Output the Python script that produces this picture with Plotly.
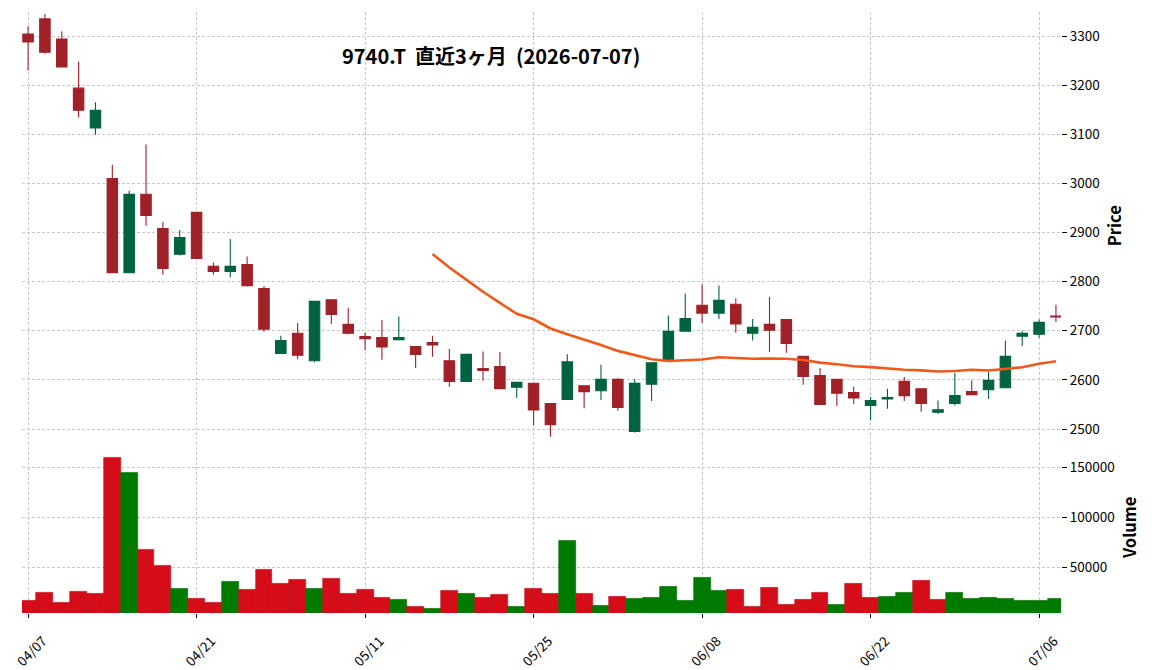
import plotly.graph_objects as go
import pandas as pd

dates = ["04/07", "04/08", "04/09", "04/10", "04/13", "04/14", "04/15", "04/16", "04/17", "04/20",
         "04/21", "04/22", "04/23", "04/24", "04/27", "04/28", "04/30", "05/01", "05/07", "05/08",
         "05/11", "05/12", "05/13", "05/14", "05/15", "05/18", "05/19", "05/20", "05/21", "05/22",
         "05/25", "05/26", "05/27", "05/28", "05/29", "06/01", "06/02", "06/03", "06/04", "06/05",
         "06/08", "06/09", "06/10", "06/11", "06/12", "06/15", "06/16", "06/17", "06/18", "06/19",
         "06/22", "06/23", "06/24", "06/25", "06/26", "06/29", "06/30", "07/01", "07/02", "07/03",
         "07/06", "07/07"]

opens = [3304, 3335, 3294, 3194, 3113, 3010, 2818, 2978, 2908, 2856,
         2941, 2831, 2821, 2835, 2786, 2654, 2695, 2639, 2763, 2713,
         2688, 2686, 2682, 2668, 2676, 2639, 2597, 2623, 2627, 2585,
         2593, 2552, 2560, 2588, 2578, 2601, 2495, 2591, 2641, 2699,
         2752, 2736, 2754, 2695, 2713, 2723, 2648, 2609, 2601, 2574,
         2548, 2561, 2597, 2582, 2534, 2552, 2576, 2580, 2584, 2689,
         2693, 2730]
highs = [3320, 3345, 3310, 3248, 3165, 3038, 2985, 3079, 2922, 2905,
         2941, 2839, 2887, 2851, 2791, 2690, 2716, 2760, 2764, 2747,
         2696, 2722, 2729, 2668, 2690, 2663, 2652, 2658, 2657, 2595,
         2593, 2552, 2652, 2588, 2631, 2604, 2602, 2635, 2731, 2776,
         2794, 2792, 2766, 2724, 2769, 2723, 2648, 2624, 2601, 2586,
         2565, 2582, 2606, 2582, 2558, 2614, 2599, 2616, 2680, 2699,
         2723, 2753]
lows = [3230, 3264, 3237, 3134, 3099, 2817, 2818, 2914, 2814, 2853,
        2846, 2814, 2809, 2790, 2698, 2654, 2642, 2636, 2714, 2693,
        2661, 2641, 2680, 2624, 2647, 2586, 2597, 2598, 2582, 2563,
        2507, 2484, 2559, 2542, 2559, 2537, 2493, 2557, 2641, 2699,
        2716, 2724, 2696, 2680, 2657, 2655, 2590, 2550, 2547, 2551,
        2518, 2541, 2557, 2535, 2531, 2548, 2570, 2561, 2584, 2669,
        2686, 2718]
closes = [3288, 3267, 3237, 3149, 3149, 2818, 2978, 2935, 2827, 2890,
          2847, 2821, 2831, 2792, 2703, 2680, 2650, 2760, 2733, 2695,
          2684, 2667, 2686, 2652, 2671, 2597, 2652, 2619, 2582, 2595,
          2539, 2509, 2637, 2576, 2601, 2544, 2593, 2635, 2699, 2725,
          2736, 2762, 2714, 2707, 2701, 2674, 2607, 2550, 2573, 2563,
          2558, 2564, 2568, 2552, 2539, 2568, 2570, 2599, 2648, 2695,
          2717, 2728]
volumes = [16300, 24300, 14300, 25300, 23300, 160300, 145300, 67300, 51300, 28300,
           18300, 14300, 35300, 27300, 47300, 33300, 37300, 28300, 38300, 23300,
           27300, 19300, 17300, 10300, 8300, 26300, 23300, 19300, 22300, 10300,
           28300, 23300, 76300, 23300, 11300, 20300, 18300, 19300, 30300, 16300,
           39300, 26300, 27300, 10300, 29300, 12300, 17300, 24300, 12300, 33300,
           19300, 20300, 24300, 36300, 17300, 24300, 18300, 19300, 18300, 16300,
           16300, 18300]

tick_dates = ["04/07", "04/21", "05/11", "05/25", "06/08", "06/22", "07/06"]
price_ticks = [2500, 2600, 2700, 2800, 2900, 3000, 3100, 3200, 3300]
volume_ticks = [50000, 100000, 150000]
title_text = "9740.T\u00a0\u00a0直近3ヶ月\u00a0\u00a0(2026-07-07)"

UP, DOWN = "#006340", "#A02128"
VUP, VDOWN = "#007a00", "#d50d18"

# volume colour: close vs previous close (first bar: open vs close)
vcolors = []
for i in range(len(closes)):
    if i == 0:
        up = closes[0] > opens[0]
    else:
        up = closes[i] > closes[i - 1]
    vcolors.append(VUP if up else VDOWN)
vedges = ["#006a00" if c == VUP else "#b80b15" for c in vcolors]

ma25 = pd.Series(closes, dtype=float).rolling(25).mean()
ma25 = [None if pd.isna(v) else v for v in ma25]

FONT = "Noto Sans CJK JP"
GRID = dict(showgrid=True, gridcolor="#c8c8c8", gridwidth=0.8, griddash="3px,2px")

fig = go.Figure()
fig.add_trace(go.Candlestick(
    x=dates, open=opens, high=highs, low=lows, close=closes,
    increasing=dict(line=dict(color=UP, width=1.1), fillcolor=UP),
    decreasing=dict(line=dict(color=DOWN, width=1.1), fillcolor=DOWN),
    whiskerwidth=0, xaxis="x", yaxis="y", showlegend=False, hoverinfo="skip"))
fig.add_trace(go.Scatter(
    x=dates, y=ma25, mode="lines", line=dict(color="#ef5a1b", width=2.6),
    xaxis="x", yaxis="y", showlegend=False, hoverinfo="skip"))
fig.add_trace(go.Bar(
    x=dates, y=volumes, marker=dict(color=vcolors, line=dict(color=vedges, width=0.6)),
    xaxis="x2", yaxis="y2", showlegend=False, hoverinfo="skip"))

xrange = [-0.36, 61.3]
fig.update_layout(
    width=1152, height=670,
    margin=dict(l=22, r=91, t=12, b=57, autoexpand=False),
    paper_bgcolor="white", plot_bgcolor="white",
    font=dict(family=FONT, size=13.5, color="black"),
    bargap=0, boxgap=0.38, boxgroupgap=0,
    xaxis=dict(type="category", domain=[0, 1], anchor="y", range=xrange,
               tickvals=tick_dates, showticklabels=False, ticks="",
               rangeslider=dict(visible=False), zeroline=False, showline=False,
               automargin=False, matches="x2", **GRID),
    xaxis2=dict(type="category", domain=[0, 1], anchor="y2", range=xrange,
                tickvals=tick_dates, ticktext=tick_dates, ticks="outside", ticklen=4,
                tickcolor="black", tickwidth=1, tickangle=-45,
                ticklabelshift=15, ticklabelstandoff=10,
                tickfont=dict(family=FONT, size=13.5), automargin=False,
                rangeslider=dict(visible=False), zeroline=False, showline=False, **GRID),
    yaxis=dict(domain=[0.289, 1], anchor="x", side="right", range=[2479, 3349],
               tickvals=price_ticks, ticks="outside", ticklen=5, tickcolor="black",
               tickfont=dict(family=FONT, size=13.5), zeroline=False, showline=False,
               automargin=False,
               title=dict(text="Price", font=dict(family=FONT, size=16.5, weight="bold"), standoff=10),
               **GRID),
    yaxis2=dict(domain=[0, 0.285], anchor="x2", side="right", range=[4300, 176000],
                tickvals=volume_ticks, tickformat="d", ticks="outside", ticklen=5,
                tickcolor="black", tickfont=dict(family=FONT, size=13.5),
                zeroline=False, showline=False, automargin=False,
                title=dict(text="Volume", font=dict(family=FONT, size=16.5, weight="bold"), standoff=10),
                **GRID),
    annotations=[dict(text=title_text, xref="paper", yref="paper", x=0.4514, y=0.9284,
                      xanchor="center", yanchor="middle", showarrow=False,
                      font=dict(family=FONT, size=20, color="black", weight="bold"))],
)

fig.write_html("out.html")
